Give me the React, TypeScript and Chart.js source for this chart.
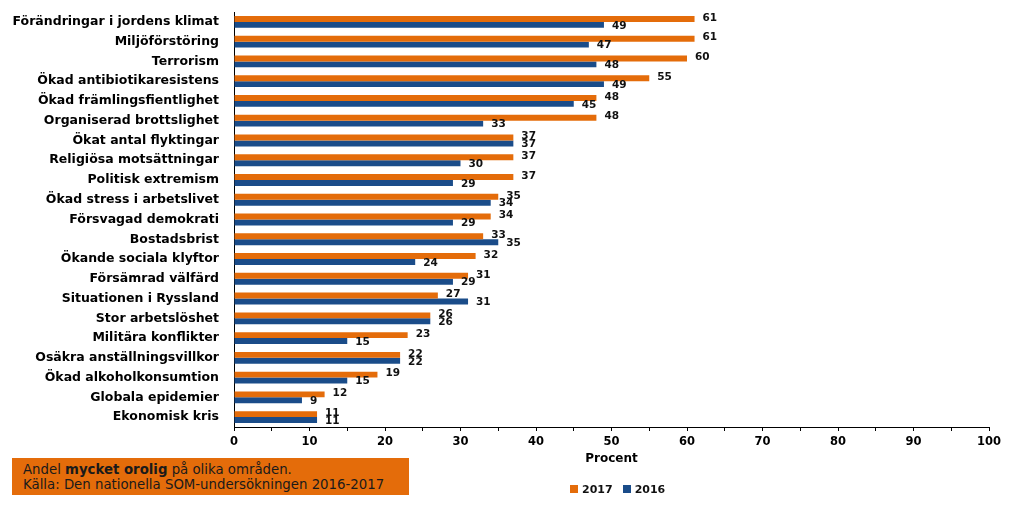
import React, { useEffect, useRef } from "react";
import { Chart, registerables } from "chart.js";

Chart.register(...registerables);

const categories = [
  "Förändringar i jordens klimat",
  "Miljöförstöring",
  "Terrorism",
  "Ökad antibiotikaresistens",
  "Ökad främlingsfientlighet",
  "Organiserad brottslighet",
  "Ökat antal flyktingar",
  "Religiösa motsättningar",
  "Politisk extremism",
  "Ökad stress i arbetslivet",
  "Försvagad demokrati",
  "Bostadsbrist",
  "Ökande sociala klyftor",
  "Försämrad välfärd",
  "Situationen i Ryssland",
  "Stor arbetslöshet",
  "Militära konflikter",
  "Osäkra anställningsvillkor",
  "Ökad alkoholkonsumtion",
  "Globala epidemier",
  "Ekonomisk kris",
];

const values2017 = [61, 61, 60, 55, 48, 48, 37, 37, 37, 35, 34, 33, 32, 31, 27, 26, 23, 22, 19, 12, 11];
const values2016 = [49, 47, 48, 49, 45, 33, 37, 30, 29, 34, 29, 35, 24, 29, 31, 26, 15, 22, 15, 9, 11];

const seriesLabels = ["2017", "2016"];
const axisTitle = "Procent";
const noteLine1 = ["Andel ", "mycket orolig", " på olika områden."];
const noteLine2 = "Källa: Den nationella SOM-undersökningen 2016-2017";

const ORANGE = "#E46C0A";
const BLUE = "#1A4C89";
const FONT = "'DejaVu Sans', Verdana, sans-serif";

const valueLabelPlugin = {
  id: "valueLabels",
  afterDatasetsDraw(chart: any) {
    const ctx = chart.ctx;
    ctx.save();
    ctx.font = `bold 10.5px ${FONT}`;
    ctx.fillStyle = "#111";
    ctx.textAlign = "left";
    ctx.textBaseline = "middle";
    chart.data.datasets.forEach((ds: any, di: number) => {
      const meta = chart.getDatasetMeta(di);
      meta.data.forEach((bar: any, i: number) => {
        const v = ds.data[i];
        const dy = di === 0 ? -1 : 1;
        ctx.fillText(String(v), bar.x + 8, bar.y + dy);
      });
    });
    ctx.restore();
  },
};

export default function App() {
  const canvasRef = useRef<HTMLCanvasElement | null>(null);

  useEffect(() => {
    if (!canvasRef.current) return;
    const chart = new Chart(canvasRef.current, {
      type: "bar",
      data: {
        labels: categories,
        datasets: [
          {
            label: seriesLabels[0],
            data: values2017,
            backgroundColor: ORANGE,
            categoryPercentage: 0.6,
            barPercentage: 1.0,
          },
          {
            label: seriesLabels[1],
            data: values2016,
            backgroundColor: BLUE,
            categoryPercentage: 0.6,
            barPercentage: 1.0,
          },
        ],
      },
      options: {
        indexAxis: "y",
        animation: false,
        responsive: false,
        maintainAspectRatio: false,
        layout: { padding: { top: 12, right: 35, bottom: 0, left: 0 } },
        plugins: {
          legend: { display: false },
          tooltip: { enabled: false },
        },
        scales: {
          x: {
            min: 0,
            max: 100,
            afterFit: (scale: any) => {
              scale.height = 78;
            },
            ticks: {
              stepSize: 5,
              autoSkip: false,
              maxRotation: 0,
              padding: 4,
              color: "#000",
              font: { family: FONT, size: 11.5, weight: "bold" },
              callback: (v: any) => (Number(v) % 10 === 0 ? String(v) : ""),
            },
            grid: {
              display: true,
              drawOnChartArea: false,
              drawTicks: true,
              tickLength: 4,
              color: "#000",
            },
            border: { display: true, color: "#000", width: 1 },
            title: {
              display: true,
              text: axisTitle,
              color: "#000",
              font: { family: FONT, size: 12, weight: "bold" },
              padding: { top: 4, bottom: 39 },
            },
          },
          y: {
            afterFit: (scale: any) => {
              scale.width = 234;
              scale.paddingTop = 0;
              scale.paddingBottom = 0;
            },
            ticks: {
              autoSkip: false,
              padding: 15,
              color: "#000",
              font: { family: FONT, size: 12.5, weight: "bold" },
            },
            grid: { display: false, drawTicks: false },
            border: { display: true, color: "#000", width: 1 },
          },
        },
      },
      plugins: [valueLabelPlugin],
    } as any);
    return () => chart.destroy();
  }, []);

  return (
    <div style={{ position: "absolute", left: 0, top: 0, width: 1024, height: 505, background: "#fff" }}>
      <canvas ref={canvasRef} width={1024} height={505} style={{ position: "absolute", left: 0, top: 0 }} />
      <div
        style={{
          position: "absolute",
          left: 12,
          top: 458,
          width: 397,
          height: 37,
          background: ORANGE,
          fontFamily: FONT,
          fontSize: 13.3,
          color: "#1a1a1a",
          lineHeight: "15px",
          boxSizing: "border-box",
          padding: "4px 0 0 11px",
          whiteSpace: "nowrap",
        }}
      >
        <div>
          {noteLine1[0]}
          <b>{noteLine1[1]}</b>
          {noteLine1[2]}
        </div>
        <div>{noteLine2}</div>
      </div>
      <div
        style={{
          position: "absolute",
          left: 570,
          top: 482,
          height: 14,
          display: "flex",
          alignItems: "center",
          fontFamily: FONT,
          fontSize: 11,
          fontWeight: "bold",
          color: "#111",
          whiteSpace: "nowrap",
        }}
      >
        <span style={{ display: "inline-block", width: 8, height: 8, background: ORANGE, marginRight: 4 }} />
        <span style={{ marginRight: 10 }}>{seriesLabels[0]}</span>
        <span style={{ display: "inline-block", width: 8, height: 8, background: BLUE, marginRight: 4 }} />
        <span>{seriesLabels[1]}</span>
      </div>
    </div>
  );
}
